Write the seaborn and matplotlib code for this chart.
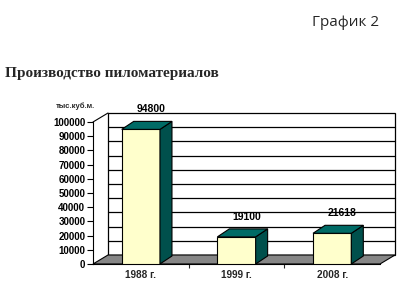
import matplotlib
matplotlib.use("Agg")
import matplotlib.pyplot as plt
import seaborn as sns
import pandas as pd
from matplotlib.patches import Polygon, Rectangle

# ---- data ----
years = ["1988 г.", "1999 г.", "2008 г."]
volumes = [94800, 19100, 21618]
value_labels = ["94800", "19100", "21618"]
y_ticks = list(range(0, 100001, 10000))
unit_label = "тыс.куб.м."
title = "Производство пиломатериалов"
page_label = "График 2"

sns.set_style("white")
plt.rcParams['font.family'] = ['Liberation Sans', 'DejaVu Sans']

FW, FH = 420, 300
fig = plt.figure(figsize=(FW / 100, FH / 100), dpi=100)
fig.patch.set_facecolor("white")

# front plane of the 3D chart (pixels)
ax_l, ax_b, ax_w, ax_h = 93, 36, 287, 142
ax = fig.add_axes([ax_l / FW, ax_b / FH, ax_w / FW, ax_h / FH])
ax.patch.set_visible(False)

df = pd.DataFrame({"year": years, "volume": volumes})
sns.barplot(data=df, x="year", y="volume", color="#FFFFCC", saturation=1,
            width=0.4, edgecolor="black", linewidth=0.8, errorbar=None,
            ax=ax, zorder=4)
bars = list(ax.patches)

ymax = y_ticks[-1]
ax.set_xlim(-0.5, len(years) - 0.5)
ax.set_ylim(0, ymax)
ax.set_xlabel("")
ax.set_ylabel("")

# pixel -> data conversion
sx = len(years) / ax_w
sy = ymax / ax_h
wdx, wdy = 15 * sx, 9 * sy      # wall depth
bdx, bdy = 12 * sx, 8 * sy      # bar depth

x0a, x1a = -0.5, len(years) - 0.5

# back wall
ax.add_patch(Rectangle((x0a + wdx, wdy), x1a - x0a, ymax, facecolor="white",
                       edgecolor="black", linewidth=0.9, clip_on=False, zorder=0.5))
for t in y_ticks[1:-1]:
    ax.plot([x0a + wdx, x1a + wdx], [t + wdy, t + wdy], color="black",
            linewidth=0.9, clip_on=False, zorder=1)
# top-left diagonal of the side wall
ax.plot([x0a, x0a + wdx], [ymax, ymax + wdy], color="black", linewidth=0.8,
        clip_on=False, zorder=1)
# floor
ax.add_patch(Polygon([(x0a, 0), (x1a, 0), (x1a + wdx, wdy), (x0a + wdx, wdy)],
                     closed=True, facecolor="#868686", edgecolor="black",
                     linewidth=0.8, clip_on=False, zorder=2))

# 3D bar faces
for p, lab in zip(bars, value_labels):
    x0, w, h = p.get_x(), p.get_width(), p.get_height()
    top = [(x0, h), (x0 + w, h), (x0 + w + bdx, h + bdy), (x0 + bdx, h + bdy)]
    side = [(x0 + w, 0), (x0 + w, h), (x0 + w + bdx, h + bdy), (x0 + w + bdx, bdy)]
    ax.add_patch(Polygon(side, closed=True, facecolor="#00504C", edgecolor="black",
                         linewidth=0.8, clip_on=False, zorder=4))
    ax.add_patch(Polygon(top, closed=True, facecolor="#006B66", edgecolor="black",
                         linewidth=0.8, clip_on=False, zorder=4))
    ax.text(x0 + w / 2 + 10 * sx, h + bdy + 12 * sy, lab, ha="center", va="center",
            fontsize=7.5, fontweight="bold", color="black", zorder=6)

# axes styling
for s in ["top", "right"]:
    ax.spines[s].set_visible(False)
for s in ["left", "bottom"]:
    ax.spines[s].set_color("black")
    ax.spines[s].set_linewidth(0.8)
    ax.spines[s].set_zorder(3)

ax.set_yticks(y_ticks)
ax.set_yticklabels([str(t) for t in y_ticks], fontsize=7, fontweight="bold")
ax.tick_params(axis="y", direction="out", length=4, width=0.8, pad=1.5,
               left=True, colors="black")
ax.set_xticks(range(len(years)))
ax.set_xticklabels(years, fontsize=7.2, fontweight="bold")
ax.set_xticks([i + 0.5 for i in range(len(years) - 1)], minor=True)
ax.tick_params(axis="x", which="major", length=0, pad=4)
ax.tick_params(axis="x", which="minor", direction="out", length=3, width=0.8,
               bottom=True)

# texts
fig.text(5 / FW, 1 - 74 / FH, title, fontsize=11, fontweight="bold",
         family=["Liberation Serif", "DejaVu Serif"], ha="left", va="center")
fig.text(312 / FW, 1 - 22 / FH, page_label, fontsize=11,
         family=["Open Sans", "DejaVu Sans"], ha="left", va="center")
fig.text(75 / FW, 1 - 106 / FH, unit_label, fontsize=5.5, fontweight="bold",
         ha="center", va="center")

fig.savefig("out.png", dpi=100, facecolor="white")
